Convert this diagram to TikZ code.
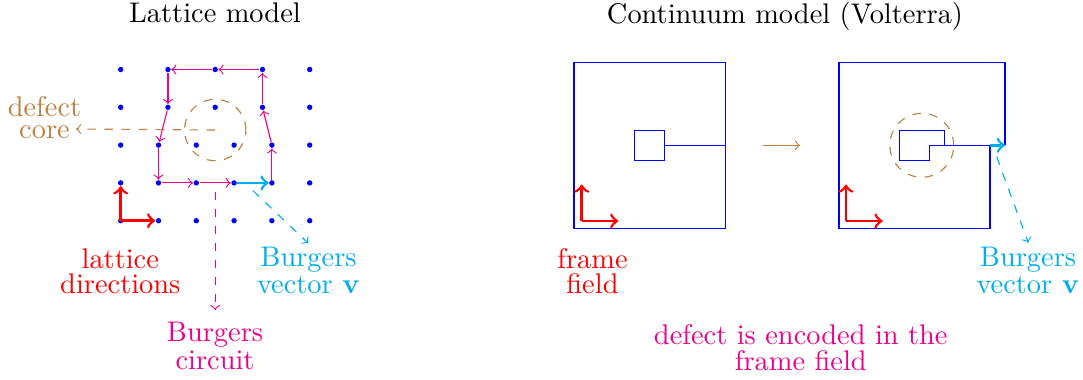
\documentclass[tikz,border=0pt]{standalone}
\definecolor{cmykcyan}{RGB}{0,174,239}
\definecolor{cmykmagenta}{RGB}{236,0,140}
\definecolor{brn}{rgb}{0.75,0.5,0.25}
\pgfdeclarelayer{bg}
\pgfsetlayers{bg,main}
\tikzset{
  dot/.style={circle,fill=blue,inner sep=0pt,minimum size=1.9pt},
  circuit/.style={draw=cmykmagenta,->},
  framearrow/.style={draw=red,line width=0.95pt,->},
  bvec/.style={draw=cmykcyan,line width=0.95pt,->},
  pointer/.style={dashed,->},
  outline/.style={draw=blue},
  lbl/.style={align=center,inner sep=0pt,anchor=base},
}
\begin{document}
\begin{tikzpicture}[x=0.3521pt,y=-0.3521pt]
\useasboundingbox (0,0) rectangle (1083,379);

% ---------- titles
\node[lbl] (t1) at (215,22.7) {Lattice model};
\node[lbl] (t2) at (785,23.3) {Continuum model (Volterra)};

% ---------- lattice
\foreach \j in {0,1,2} \foreach \i in {0,...,5}
  \node[dot] (b-\i-\j) at ({120.7+37.8*\i},{220.7-37.8*\j}) {};
\foreach \j in {3,4} \foreach \k in {0,...,4}
  \node[dot] (t-\k-\j) at ({120.7+47.25*\k},{220.7-37.8*\j}) {};

\begin{pgfonlayer}{bg}
  \foreach \a/\b in {t-3-4/t-2-4, t-2-4/t-1-4, t-1-4/t-1-3, t-1-3/b-1-2,
                     b-1-2/b-1-1, b-1-1/b-2-1, b-2-1/b-3-1,
                     b-4-1/b-4-2, b-4-2/t-3-3, t-3-3/t-3-4}
    \draw[circuit] (\a) -- (\b);
  \draw[bvec] (b-3-1) -- (b-4-1);
  % defect core
  \node[draw=brn,dashed,circle,inner sep=0pt,minimum size=21.6pt] (core) at (215.2,130) {};
  \coordinate (defTip) at (76,129);
  \draw[pointer,draw=brn] (core.center) -- (defTip);
  % Burgers circuit pointer
  \coordinate (bcStart) at (215.2,191.5);
  \coordinate (bcTip) at (215.2,310);
  \draw[pointer,draw=cmykmagenta] (bcStart) -- (bcTip);
  % Burgers vector pointer (left)
  \coordinate (bvStart) at (253,190.7);
  \coordinate (bvTip) at (308.3,243.3);
  \draw[pointer,draw=cmykcyan] (bvStart) -- (bvTip);
\end{pgfonlayer}

\draw[framearrow] (b-0-0.center) -- (b-0-1);
\draw[framearrow] (b-0-0.center) -- (b-1-0);

% labels (left); anchor=base is the baseline of the last line
\node[lbl,text=brn,font=\fontsize{10}{7.6}\selectfont] (defl) at (44.5,138.3) {defect\\core};
\node[lbl,text=red,font=\fontsize{10}{8.8}\selectfont] (latl) at (120.3,293.3) {lattice\\directions};
\node[lbl,text=cmykcyan,font=\fontsize{10}{9.6}\selectfont] (bvl) at (308.5,293.3) {Burgers\\vector $\mathbf{v}$};
\node[lbl,text=cmykmagenta,font=\fontsize{10}{9.7}\selectfont] (bcl) at (215,369.3) {Burgers\\circuit};

% ---------- continuum, left
\draw[outline] (574,62.3) rectangle (725.3,228.3);
\node[draw=blue,inner sep=0pt,minimum size=10.7pt] (hole) at (649.65,145.3) {};
\coordinate (cutEnd) at (725.3,145.3);
\draw[outline] (hole.east) -- (cutEnd);
\coordinate (fL) at (581.7,221);
\coordinate (fLu) at (581.7,184.5);
\coordinate (fLr) at (618.3,221);
\draw[framearrow] (fL) -- (fLu);
\draw[framearrow] (fL) -- (fLr);

% transition arrow
\coordinate (trA) at (762.7,145.3);
\coordinate (trB) at (800,145.3);
\draw[draw=brn,->] (trA) -- (trB);

% ---------- continuum, right
\node[draw=brn,dashed,circle,inner sep=0pt,minimum size=22.5pt] (core2) at (921.8,145.3) {};
\draw[outline] (1005,145.3) -- (1005,62.3) -- (839,62.3) -- (839,228.3) -- (990,228.3)
  -- (990,145.3) -- (929.3,145.3) -- (929.3,160.3) -- (899.3,160.3) -- (899.3,130.3)
  -- (944.3,130.3) -- (944.3,145.3);
\coordinate (bvA) at (990,145.3);
\coordinate (bvB) at (1005,145.3);
\draw[bvec] (bvA) -- (bvB);
\coordinate (fR) at (846,221);
\coordinate (fRu) at (846,184.5);
\coordinate (fRr) at (882.7,221);
\draw[framearrow] (fR) -- (fRu);
\draw[framearrow] (fR) -- (fRr);
\coordinate (bv2Start) at (996.7,156.7);
\coordinate (bv2Tip) at (1028.3,242.7);
\draw[pointer,draw=cmykcyan] (bv2Start) -- (bv2Tip);

% labels (right)
\node[lbl,text=red,font=\fontsize{10}{8.8}\selectfont] (ffl) at (592.5,293.3) {frame\\field};
\node[lbl,text=cmykcyan,font=\fontsize{10}{9.6}\selectfont] (bvr) at (1028,293.3) {Burgers\\vector $\mathbf{v}$};
\node[lbl,text=cmykmagenta,font=\fontsize{10}{9.05}\selectfont] (enc) at (800.8,370) {defect is encoded in the\\frame field};
\end{tikzpicture}
\end{document}
